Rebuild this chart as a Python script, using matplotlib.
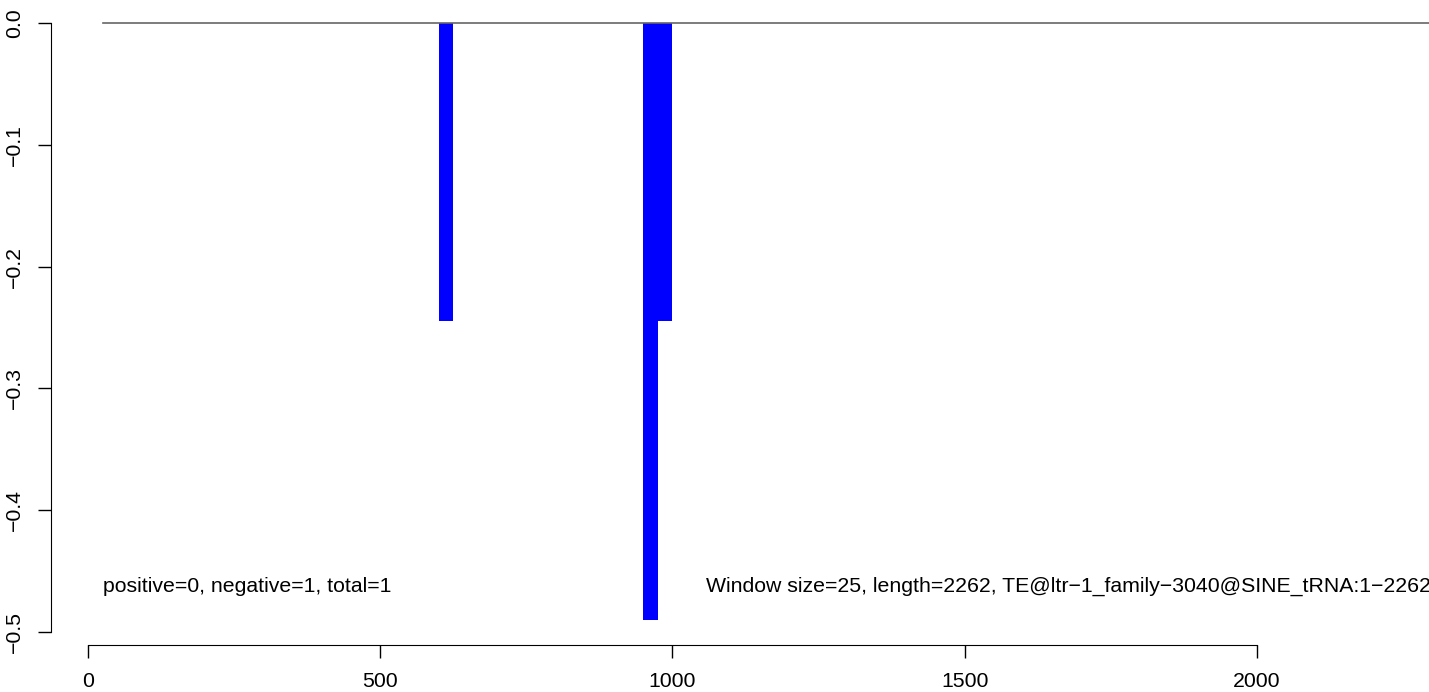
import matplotlib
matplotlib.use("Agg")
import matplotlib.pyplot as plt

# window bars (start, end, value)
bar_starts = [600, 950, 975]
bar_ends = [625, 975, 1000]
bar_values = [-0.245, -0.49, -0.245]

seq_length = 2262
window_size = 25
x_ticks = [0, 500, 1000, 1500, 2000]
y_ticks = [0.0, -0.1, -0.2, -0.3, -0.4, -0.5]

left_note = "positive=0, negative=1, total=1"
right_note = "Window size=25, length=2262, TE@ltr\u22121_family\u22123040@SINE_tRNA:1\u22122262"

plt.rcParams.update({
    'font.family': ['Liberation Sans', 'DejaVu Sans'],
    'font.size': 15.3,
    'axes.unicode_minus': True,
})

W, H = 1429, 692
fig = plt.figure(figsize=(W / 100, H / 100), dpi=100)
ax = fig.add_axes([51 / W, (H - 645) / H, 1 - 51 / W, 645 / H])

widths = [e - s for s, e in zip(bar_starts, bar_ends)]
ax.bar(bar_starts, bar_values, width=widths, align='edge', color='#0000ff', linewidth=0)
ax.plot([window_size, seq_length + 200], [0, 0], color='#666666', linewidth=1.2)

ax.set_xlim(-63.8, 2295)
ax.set_ylim(-0.5107, 0.0189)

for side in ['top', 'right']:
    ax.spines[side].set_visible(False)
ax.spines['left'].set_bounds(-0.5, 0.0)
ax.spines['bottom'].set_bounds(0, 2000)

ax.set_xticks(x_ticks)
ax.set_xticklabels([str(t) for t in x_ticks])
ax.set_yticks(y_ticks)
ax.set_yticklabels([f"{t:.1f}".replace('-', '\u2212') for t in y_ticks], rotation=90, va='center')
ax.tick_params(axis='both', length=9.5, width=1, direction='out')
ax.tick_params(axis='x', pad=10)
ax.tick_params(axis='y', pad=10)

ax.text(25, -0.4625, left_note, ha='left', va='center', fontsize=15.3)
ax.text(1057, -0.4625, right_note, ha='left', va='center', fontsize=15.3)

fig.savefig('out.png', dpi=100)
